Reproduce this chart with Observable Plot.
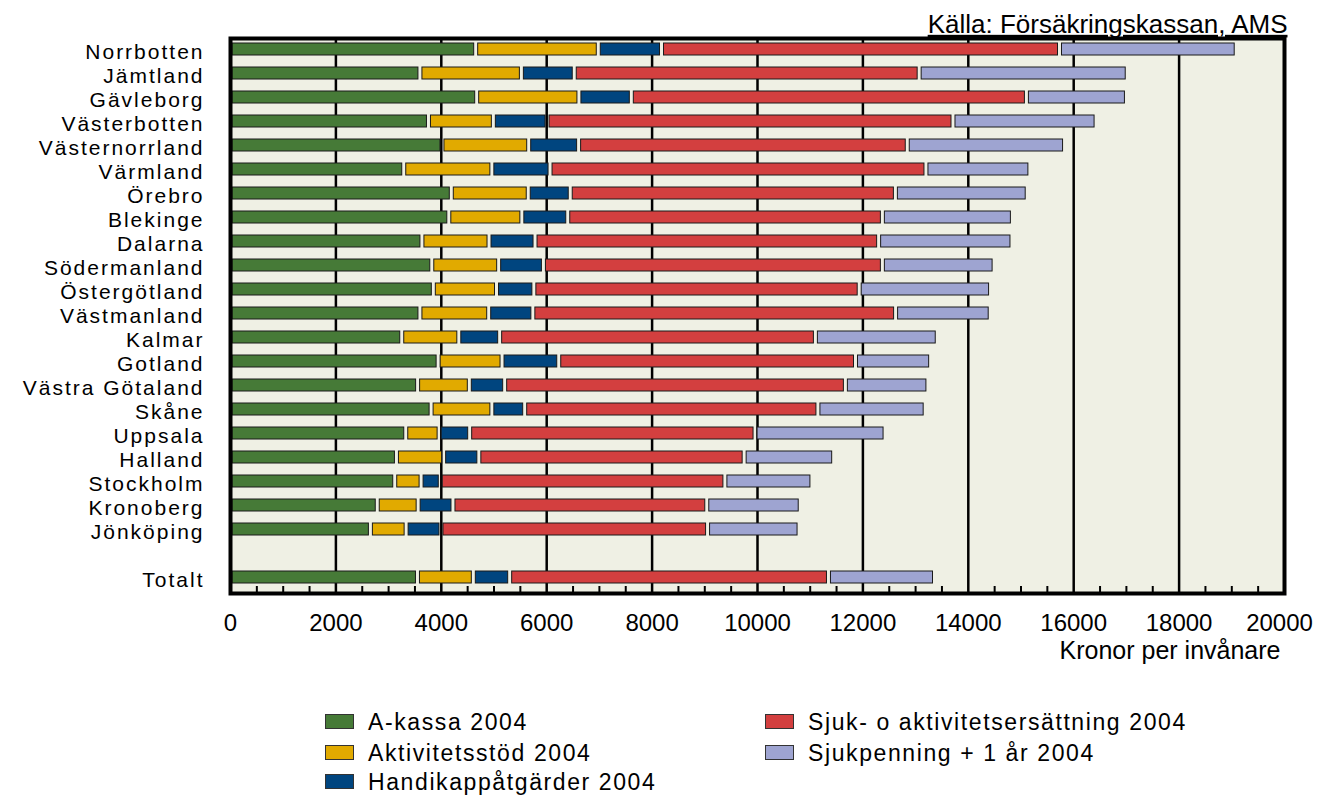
<!DOCTYPE html>
<html>
<head>
<meta charset="utf-8">
<script src="https://cdn.jsdelivr.net/npm/d3@7"></script>
<script src="https://cdn.jsdelivr.net/npm/@observablehq/plot@0.6"></script>
<style>
  body { margin: 0; background: #ffffff; font-family: "Liberation Sans", Arial, sans-serif; }
  #wrap { position: relative; width: 1317px; height: 798px; overflow: hidden; }
  #chart { position: absolute; left: 0; top: 0; }
  .lg { position: absolute; font-size: 23px; letter-spacing: 1.6px; color: #000; line-height: 24px; white-space: nowrap; }
  .sw { position: absolute; width: 29px; height: 15px; border: 1px solid #333; box-sizing: border-box; }
</style>
</head>
<body>
<div id="wrap">
  <div id="chart"></div>
  <div id="legend"></div>
</div>
<script>
// ---- Data (kronor per invånare, 2004) ----
const regions = ["Norrbotten", "Jämtland", "Gävleborg", "Västerbotten", "Västernorrland", "Värmland", "Örebro", "Blekinge", "Dalarna", "Södermanland", "Östergötland", "Västmanland", "Kalmar", "Gotland", "Västra Götaland", "Skåne", "Uppsala", "Halland", "Stockholm", "Kronoberg", "Jönköping", "", "Totalt"];
const aKassa      = [4662, 3604, 4681, 3766, 4022, 3297, 4199, 4152, 3642, 3829, 3858, 3604, 3259, 3949, 3560, 3816, 3335, 3158, 3126, 2794, 2664, null, 3557];
const aktivitet   = [2326, 1925, 1940, 1231, 1646, 1672, 1460, 1386, 1273, 1269, 1199, 1305, 1083, 1213, 981, 1153, 633, 896, 500, 776, 678, null, 1060];
const handikapp   = [1200, 1003, 994, 1019, 947, 1104, 797, 871, 873, 849, 709, 838, 775, 1076, 671, 623, 580, 668, 364, 661, 661, null, 690];
const sjukAkt     = [7552, 6545, 7497, 7703, 6236, 7133, 6170, 5970, 6520, 6432, 6173, 6883, 5991, 5631, 6465, 5564, 5415, 5034, 5401, 4816, 5059, null, 6049];
const sjukpenning = [3353, 3948, 1898, 2715, 2985, 1972, 2501, 2467, 2530, 2120, 2493, 1795, 2312, 1426, 1566, 2035, 2467, 1699, 1651, 1773, 1736, null, 2012];

const seriesNames = ["A-kassa 2004", "Aktivitetsstöd 2004", "Handikappåtgärder 2004", "Sjuk- o aktivitetsersättning 2004", "Sjukpenning + 1 år 2004"];
const seriesColors = ["#467a37", "#e1aa00", "#00457f", "#d33f3f", "#9ea4d1"];
const xTicks = [0, 2000, 4000, 6000, 8000, 10000, 12000, 14000, 16000, 18000];
const xTickLast = [20000];
const gridValues = [2000, 4000, 6000, 8000, 10000, 12000, 14000, 16000, 18000];
const minorTicks = d3.range(500, 20000, 500).filter(v => v % 2000 !== 0);
const sourceText = "Källa: Försäkringskassan, AMS";
const xLabel = "Kronor per invånare";

// long-form table built from the arrays
const seriesArrays = [aKassa, aktivitet, handikapp, sjukAkt, sjukpenning];
const data = [];
regions.forEach((r, i) => {
  seriesArrays.forEach((arr, s) => {
    if (arr[i] != null) data.push({region: r, series: seriesNames[s], value: arr[i]});
  });
});

const W = 1317, H = 670, mTop = 38, mBottom = 77, mLeft = 230, mRight = 33;
const frameH = H - mTop - mBottom;
const bg = "#eff0e4";
const font = "'Liberation Sans', Arial, sans-serif";

const chart = Plot.plot({
  width: W,
  height: H,
  marginTop: mTop,
  marginBottom: mBottom,
  marginLeft: mLeft,
  marginRight: mRight,
  style: {fontFamily: font, fontSize: "24px", color: "#000", background: "transparent", overflow: "visible"},
  x: {domain: [0, 20000]},
  y: {domain: regions, range: [36, 590], padding: 0.5, paddingOuter: 0.25, axis: null},
  color: {domain: seriesNames, range: seriesColors},
  marks: [
    Plot.frame({fill: bg, stroke: "none"}),
    Plot.ruleX(gridValues, {stroke: "#000", strokeWidth: 2.5}),
    Plot.ruleX(minorTicks, {stroke: "#000", strokeWidth: 2, insetTop: frameH - 7}),
    Plot.barX(data, Plot.stackX({
      x: "value", y: "region", fill: "series", order: seriesNames,
      stroke: "#1a1a1a", strokeWidth: 1, insetLeft: 2, insetRight: 2
    })),
    Plot.frame({stroke: "#000", strokeWidth: 4}),
    Plot.axisY({tickSize: 0, tickPadding: 26, fontSize: 21, dy: 3, label: null}),
    Plot.axisX({ticks: xTicks, tickSize: 0, tickPadding: 20, fontSize: 24, label: null, tickFormat: d => String(d)}),
    Plot.axisX({ticks: xTickLast, tickSize: 0, tickPadding: 20, fontSize: 24, dx: -5, label: null, tickFormat: d => String(d)}),
    Plot.text([xLabel], {frameAnchor: "bottom-right", lineAnchor: "middle", dx: -4, dy: 57, textAnchor: "end", fontSize: 25}),
    Plot.text([sourceText], {frameAnchor: "top-right", lineAnchor: "middle", dx: 3, dy: -14, textAnchor: "end", fontSize: 26})
  ]
});
document.getElementById("chart").appendChild(chart);
d3.select(chart).selectAll("text").filter(function() { return this.textContent === sourceText; })
  .style("text-decoration", "underline");
// wider letter spacing on region labels, as in the original rendering
d3.select(chart).selectAll("text").filter(function() { return regions.includes(this.textContent) && this.textContent !== ""; })
  .style("letter-spacing", "2px");

// legend
const legend = document.getElementById("legend");
const legendPos = [
  {x: 325, y: 722}, {x: 325, y: 753}, {x: 325, y: 782},
  {x: 765, y: 722}, {x: 765, y: 753}
];
seriesNames.forEach((name, i) => {
  const p = legendPos[i];
  const sw = document.createElement("div");
  sw.className = "sw";
  sw.style.left = p.x + "px";
  sw.style.top = (p.y - 8) + "px";
  sw.style.background = seriesColors[i];
  legend.appendChild(sw);
  const t = document.createElement("div");
  t.className = "lg";
  t.style.left = (p.x + 43) + "px";
  t.style.top = (p.y - 12) + "px";
  t.textContent = name;
  legend.appendChild(t);
});
</script>
</body>
</html>
